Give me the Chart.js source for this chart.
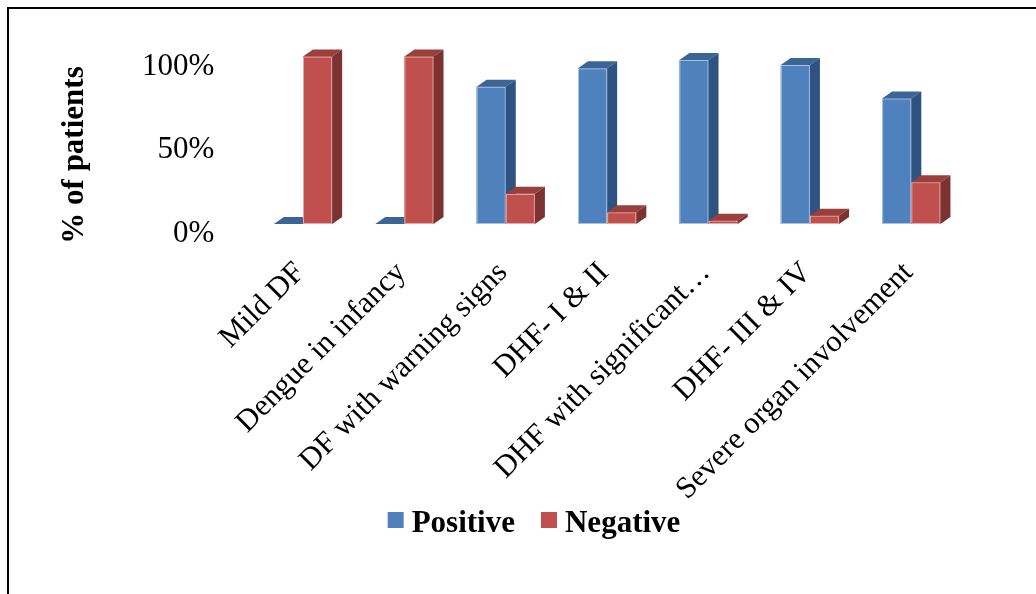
<!DOCTYPE html>
<html>
<head>
<meta charset="utf-8">
<title>% of patients by dengue category</title>
<script src="https://cdn.jsdelivr.net/npm/chart.js@4.4.1/dist/chart.umd.min.js"></script>
<style>
  html, body { margin: 0; padding: 0; background: #fff; }
  #wrap { position: relative; width: 1036px; height: 594px; overflow: hidden; }
  #wrap canvas { position: absolute; left: 0; top: 0; }
  #frame { position: absolute; left: 7px; top: 7px; right: -4px; bottom: -4px;
           border-top: 2px solid #000; border-left: 2px solid #000; pointer-events: none; }
</style>
</head>
<body>
<div id="wrap">
  <canvas id="chart" width="1036" height="594"></canvas>
  <div id="frame"></div>
</div>
<script>
// ---- data ----
const categories = [
  'Mild DF',
  'Dengue in infancy',
  'DF with warning signs',
  'DHF- I & II',
  'DHF with significant…',
  'DHF- III & IV',
  'Severe organ involvement'
];
const seriesNames = ['Positive', 'Negative'];
const positive = [0, 0, 82, 93, 98, 95, 75];
const negative = [100, 100, 18, 7, 2, 5, 25];
const yTicks = [0, 50, 100];
const yTitle = '% of patients';

// ---- styling ----
const SERIF = "'Liberation Serif', 'Times New Roman', serif";
const faceColors = [
  { front: '#4F81BD', top: '#3B6595', side: '#2F5381', edge: 'rgba(200,215,240,0.75)' },
  { front: '#C0504D', top: '#9A3F3C', side: '#7B3230', edge: 'rgba(240,200,198,0.75)' }
];
const depth = { dx: 10, dy: 7 };

// Draws each bar as a box: front face, top face and right side face,
// category by category so that later series sit in front of earlier sides.
const boxBars = {
  id: 'boxBars',
  afterDatasetsDraw(chart) {
    const ctx = chart.ctx;
    const metas = chart.data.datasets.map((d, i) => chart.getDatasetMeta(i));
    const n = chart.data.labels.length;
    ctx.save();
    for (let j = 0; j < n; j++) {
      metas.forEach((meta, i) => {
        const el = meta.data[j];
        if (!el) return;
        const p = el.getProps(['x', 'y', 'base', 'width'], true);
        const l = p.x - p.width / 2, r = p.x + p.width / 2;
        const t = Math.min(p.y, p.base), b = Math.max(p.y, p.base);
        const c = faceColors[i];
        // front
        ctx.fillStyle = c.front;
        ctx.fillRect(l, t, r - l, b - t);
        if (b - t > 1) {
          ctx.strokeStyle = c.edge;
          ctx.lineWidth = 1;
          ctx.strokeRect(l + 0.5, t + 0.5, r - l - 1, b - t - 1);
        }
        // top
        ctx.fillStyle = c.top;
        ctx.beginPath();
        ctx.moveTo(l, t);
        ctx.lineTo(l + depth.dx, t - depth.dy);
        ctx.lineTo(r + depth.dx, t - depth.dy);
        ctx.lineTo(r, t);
        ctx.closePath();
        ctx.fill();
        // side
        ctx.fillStyle = c.side;
        ctx.beginPath();
        ctx.moveTo(r, t);
        ctx.lineTo(r + depth.dx, t - depth.dy);
        ctx.lineTo(r + depth.dx, b - depth.dy);
        ctx.lineTo(r, b);
        ctx.closePath();
        ctx.fill();
      });
    }
    ctx.restore();
  }
};

// Vertical axis title and the bottom legend.
const annotations = {
  id: 'annotations',
  afterDraw(chart) {
    const ctx = chart.ctx;
    ctx.save();
    // axis title
    ctx.font = 'bold 31px ' + SERIF;
    ctx.fillStyle = '#000';
    ctx.textAlign = 'center';
    ctx.textBaseline = 'alphabetic';
    ctx.translate(83, 155);
    ctx.rotate(-Math.PI / 2);
    ctx.fillText(yTitle, 0, 0);
    ctx.restore();

    // legend
    ctx.save();
    ctx.font = 'bold 31px ' + SERIF;
    ctx.textAlign = 'left';
    ctx.textBaseline = 'alphabetic';
    const box = 16, gap = 8, itemGap = 26;
    const widths = chart.data.datasets.map(d => ctx.measureText(d.label).width);
    let total = 0;
    widths.forEach((w, i) => { total += box + gap + w + (i ? itemGap : 0); });
    let x = 534 - total / 2;
    const baseline = 532;
    chart.data.datasets.forEach((d, i) => {
      ctx.fillStyle = faceColors[i].front;
      ctx.fillRect(x, 512, box, box);
      x += box + gap;
      ctx.fillStyle = '#000';
      ctx.fillText(d.label, x, baseline);
      x += widths[i] + itemGap;
    });
    ctx.restore();
  }
};

new Chart(document.getElementById('chart'), {
  type: 'bar',
  data: {
    labels: categories,
    datasets: [
      { label: seriesNames[0], data: positive, backgroundColor: faceColors[0].front },
      { label: seriesNames[1], data: negative, backgroundColor: faceColors[1].front }
    ]
  },
  options: {
    responsive: false,
    animation: false,
    devicePixelRatio: 1,
    categoryPercentage: 0.575,
    barPercentage: 1.0,
    layout: { padding: { left: 0, top: 56, right: 74, bottom: 0 } },
    plugins: {
      legend: { display: false },
      tooltip: { enabled: false },
      title: { display: false }
    },
    datasets: { bar: { clip: false } },
    scales: {
      x: {
        grid: { display: false, drawTicks: false },
        border: { display: false },
        ticks: {
          autoSkip: false,
          minRotation: 45,
          maxRotation: 45,
          padding: 31,
          labelOffset: -3,
          color: '#000',
          font: { family: SERIF, size: 30.6 }
        },
        afterFit(scale) { scale.height = 370; }
      },
      y: {
        min: 0,
        max: 100,
        grid: { display: false, drawTicks: false },
        border: { display: false },
        afterBuildTicks(scale) { scale.ticks = yTicks.map(v => ({ value: v })); },
        ticks: {
          padding: 38,
          labelOffset: 10,
          color: '#000',
          font: { family: SERIF, size: 31 },
          callback: v => v + '%'
        },
        afterFit(scale) { scale.width = 252.3; }
      }
    }
  },
  plugins: [boxBars, annotations]
});
</script>
</body>
</html>
